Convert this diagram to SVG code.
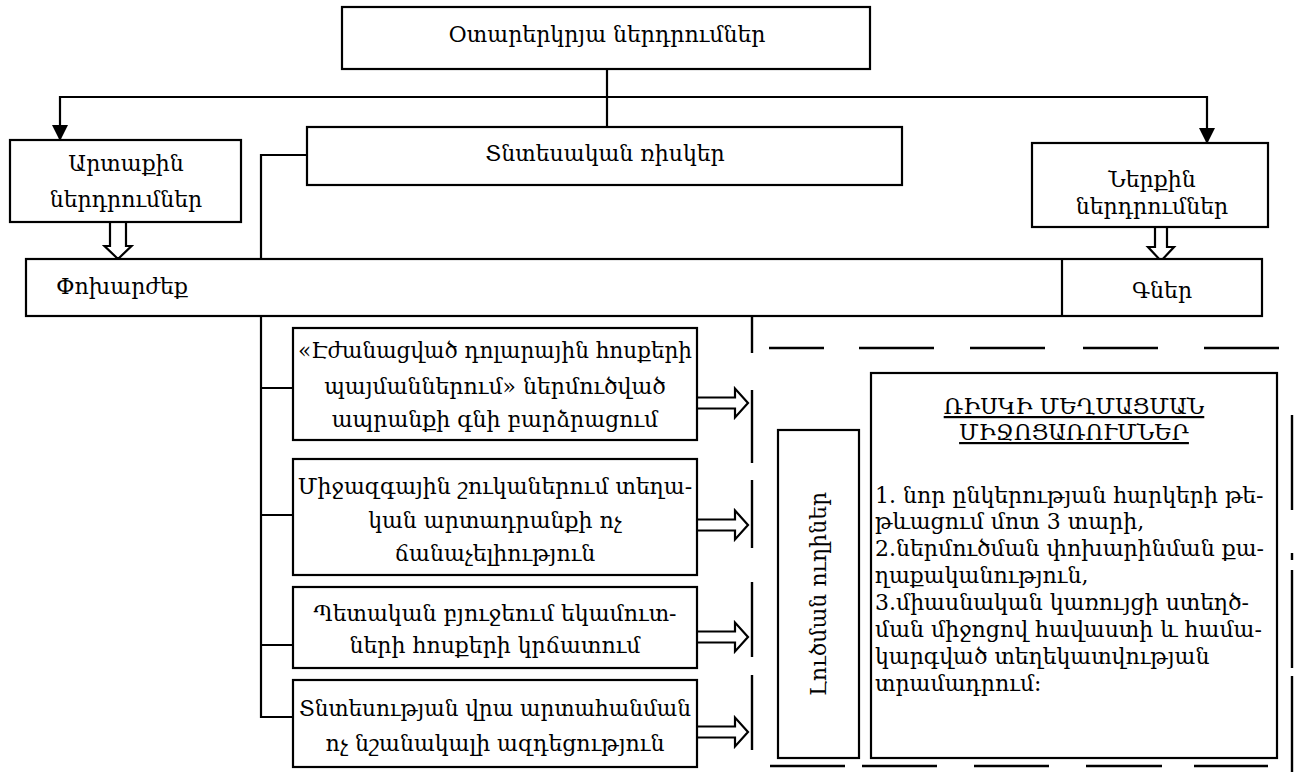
<svg xmlns="http://www.w3.org/2000/svg" width="1295" height="772" viewBox="0 0 1295 772">
  <style>
    .box { fill: #fff; stroke: #000; stroke-width: 2.2; }
    .ln { fill: none; stroke: #000; stroke-width: 2.2; }
    .seg { fill: none; stroke: #000; stroke-width: 2.4; }
    .ha { fill: #fff; stroke: #000; stroke-width: 2.2; stroke-linejoin: miter; }
    text { font-family: "DejaVu Serif", "Noto Serif", serif; font-size: 22px; fill: #000; }
    .c { text-anchor: middle; }
    .u { text-decoration: underline; }
  </style>
  <defs>
    <marker id="tri" viewBox="0 0 16 16" refX="15" refY="8" markerWidth="16" markerHeight="16" markerUnits="userSpaceOnUse" orient="auto">
      <path d="M0,0 L16,8 L0,16 Z" fill="#000"/>
    </marker>
    <!-- hollow block arrow pointing right, origin at tail centre -->
    <path id="hr" d="M0,-5.5 H38 V-14.5 L51,0 L38,14.5 V5.5 H0"/>
    <!-- hollow block arrows pointing down, origin at tail centre -->
    <path id="hd" d="M-8,0 V24 H-13.5 L0,37 L13.5,24 H8 V0"/>
    <path id="hd2" d="M-6,0 V20 H-13 L0,34 L13,20 H6 V0"/>
  </defs>

  <rect width="1295" height="772" fill="#fff"/>

  <!-- connectors -->
  <g id="connectors">
    <path class="ln" d="M607,69 V127"/>
    <path class="ln" d="M607,97 H60 V140" marker-end="url(#tri)"/>
    <path class="ln" d="M607,97 H1207 V143" marker-end="url(#tri)"/>
    <path class="ln" d="M307,155 H261 V717 H293"/>
    <path class="ln" d="M261,388 H293 M261,515 H293 M261,645 H293"/>
    <use href="#hd" class="ha" x="118" y="222"/>
    <use href="#hd2" class="ha" x="1161" y="227"/>
    <use href="#hr" class="ha" x="697" y="403"/>
    <use href="#hr" class="ha" x="697" y="525"/>
    <use href="#hr" class="ha" x="697" y="637"/>
    <use href="#hr" class="ha" x="697" y="732"/>
    <!-- broken vertical divider -->
    <path class="seg" d="M752,316 V353 M752,390 V463 M752,480 V548 M752,582 V657 M752,675 V750"/>
    <!-- dashed horizontal rules -->
    <path class="seg" d="M769,348 H824 M859,348 H934 M970,348 H1045 M1083,348 H1158 M1204,348 H1279"/>
    <path class="seg" d="M770,766 H845 M862,766 H937 M974,766 H1049 M1086,766 H1162 M1194,766 H1268"/>
    <!-- right margin dashes -->
    <path class="seg" d="M1292,415 V510 M1292,553 V560 M1292,570 V668 M1292,676 V772"/>
  </g>

  <g id="n-foreign">
    <rect class="box" x="342" y="7" width="528" height="62"/>
    <text class="c" x="607" y="42">Օտարերկրյա ներդրումներ</text>
  </g>

  <g id="n-external">
    <rect class="box" x="10" y="140" width="231" height="82"/>
    <text class="c" x="126" y="171">Արտաքին</text>
    <text class="c" x="126" y="207">ներդրումներ</text>
  </g>

  <g id="n-risks">
    <rect class="box" x="307" y="127" width="595" height="58"/>
    <text class="c" x="605" y="161">Տնտեսական ռիսկեր</text>
  </g>

  <g id="n-internal">
    <rect class="box" x="1032" y="143" width="236" height="84"/>
    <text class="c" x="1152" y="187">Ներքին</text>
    <text class="c" x="1152" y="214">ներդրումներ</text>
  </g>

  <g id="n-band">
    <rect class="box" x="26" y="259" width="1236" height="57"/>
    <line class="ln" x1="1062" y1="259" x2="1062" y2="316"/>
    <text x="56" y="294">Փոխարժեք</text>
    <text class="c" x="1162" y="298">Գներ</text>
  </g>

  <g id="n-item1">
    <rect class="box" x="293" y="328" width="404" height="112"/>
    <text class="c" x="495" y="358" textLength="394" lengthAdjust="spacingAndGlyphs">«Էժանացված դոլարային հոսքերի</text>
    <text class="c" x="495" y="394">պայմաններում» ներմուծված</text>
    <text class="c" x="495" y="427">ապրանքի գնի բարձրացում</text>
  </g>

  <g id="n-item2">
    <rect class="box" x="293" y="459" width="404" height="116"/>
    <text class="c" x="495" y="494">Միջազգային շուկաներում տեղա-</text>
    <text class="c" x="495" y="528">կան արտադրանքի ոչ</text>
    <text class="c" x="495" y="561">ճանաչելիություն</text>
  </g>

  <g id="n-item3">
    <rect class="box" x="293" y="587" width="404" height="81"/>
    <text class="c" x="495" y="621">Պետական բյուջեում եկամուտ-</text>
    <text class="c" x="495" y="653">ների հոսքերի կրճատում</text>
  </g>

  <g id="n-item4">
    <rect class="box" x="293" y="680" width="404" height="87"/>
    <text class="c" x="495" y="716" textLength="392" lengthAdjust="spacingAndGlyphs">Տնտեսության վրա արտահանման</text>
    <text class="c" x="495" y="751">ոչ նշանակալի ազդեցություն</text>
  </g>

  <g id="n-solutions">
    <rect class="box" x="778" y="430" width="81" height="328"/>
    <text class="c" transform="translate(826,594) rotate(-90)">Լուծման ուղիներ</text>
  </g>

  <g id="n-measures">
    <rect class="box" x="871" y="373" width="406" height="385"/>
    <text class="c u" x="1074" y="414">ՌԻՍԿԻ ՄԵՂՄԱՑՄԱՆ</text>
    <text class="c u" x="1074" y="440">ՄԻՋՈՑԱՌՈՒՄՆԵՐ</text>
    <text x="875" y="503">1. նոր ընկերության հարկերի թե-</text>
    <text x="875" y="529">թևացում մոտ 3 տարի,</text>
    <text x="875" y="556">2.ներմուծման փոխարինման քա-</text>
    <text x="875" y="583">ղաքականություն,</text>
    <text x="875" y="610">3.միասնական կառույցի ստեղծ-</text>
    <text x="875" y="637">ման միջոցով հավաստի և համա-</text>
    <text x="875" y="664">կարգված տեղեկատվության</text>
    <text x="875" y="691">տրամադրում:</text>
  </g>
</svg>
